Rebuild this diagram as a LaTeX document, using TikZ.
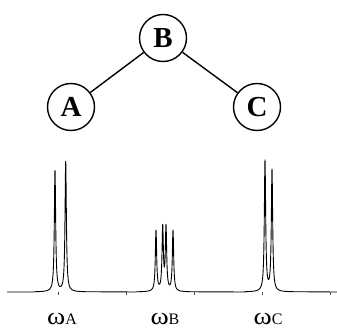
\documentclass[tikz,border=0pt]{standalone}
\usepackage{fontspec}
\setmainfont{Liberation Serif}
\usetikzlibrary{positioning}

\newcommand{\wlabel}[1]{{\fontsize{24}{24}\selectfont\scalebox{1.15}[1]{ω}}{\fontsize{16}{16}\selectfont #1}}

\begin{document}
\begin{tikzpicture}[x=1pt,y=-1pt,
  atom/.style={circle,draw,line width=1.4pt,minimum size=47pt,inner sep=0pt,font=\fontsize{29}{29}\selectfont\bfseries},
  bond/.style={line width=1.4pt},
  spec/.style={line width=0.9pt,line join=round},
  tick/.style={line width=0.6pt,black!70},
  freq/.style={anchor=base,inner sep=0pt},
  declare function={lor(\x,\c,\h)=\h*0.64/((\x-\c)^2+0.64);}]

  \useasboundingbox (0,0) rectangle (337,328);

  % spin system
  \node[atom] (B) at (163,38) {B};
  \node[atom] (A) [on grid,below left=69pt and 92pt of B] {A};
  \node[atom] (C) [on grid,below right=69pt and 94pt of B] {C};
  \draw[bond] (B) -- (A);
  \draw[bond] (B) -- (C);

  % spectrum
  \coordinate (s0) at (7,292);
  \coordinate (s1) at (337,292);
  \draw[spec] (s0) -- (35,292)
    -- plot[domain=35:86,samples=511] (\x,{292-lor(\x,55,121)-lor(\x,65.7,130)})
    -- (136,292)
    -- plot[domain=136:193,samples=571] (\x,{292-lor(\x,156,60.5)-lor(\x,162.7,63)-lor(\x,166,63)-lor(\x,173,60.5)})
    -- (245,292)
    -- plot[domain=245:292,samples=471] (\x,{292-lor(\x,265,130.5)-lor(\x,272,121.3)})
    -- (s1);
  \foreach \t in {58,126,194,262,330}
    \draw[tick] (\t,292) -- (\t,295);

  \node[freq] (wA) at (62,324) {\wlabel{A}};
  \node[freq] (wB) at (165,324) {\wlabel{B}};
  \node[freq] (wC) at (268,324) {\wlabel{C}};
\end{tikzpicture}
\end{document}
